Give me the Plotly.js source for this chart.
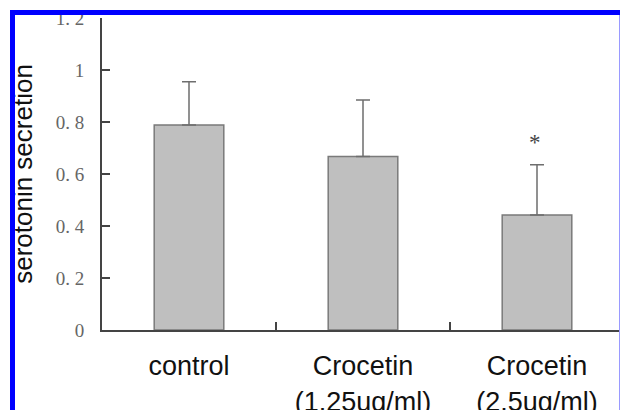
<!DOCTYPE html>
<html>
<head>
<meta charset="utf-8">
<script src="https://cdn.plot.ly/plotly-3.0.1.min.js"></script>
<style>
html,body{margin:0;padding:0;background:#fff;overflow:hidden;width:620px;height:410px;}
#wrap{position:relative;width:620px;height:410px;overflow:hidden;}
#chart{position:absolute;left:0;top:0;}
.bd{position:absolute;pointer-events:none;}
</style>
</head>
<body>
<div id="wrap">
<div id="chart"></div>
<div class="bd" style="left:10px;top:10px;width:610px;height:5px;background:#0000ff;"></div>
<div class="bd" style="left:10px;top:10px;width:5px;height:400px;background:#0000ff;"></div>
<div class="bd" style="left:619px;top:15px;width:1px;height:395px;background:#9a9aff;"></div>
</div>
<script>
// Data
var categories = ["control", "Crocetin<br>(1.25ug/ml)", "Crocetin<br>(2.5ug/ml)"];
var secretion = [0.788, 0.667, 0.442];
var errorUp = [0.167, 0.218, 0.194];
var significance = ["", "", "*"];
var yTickVals = [0, 0.2, 0.4, 0.6, 0.8, 1.0, 1.2];
var yTickText = ["0", "0. 2", "0. 4", "0. 6", "0. 8", "1", "1. 2"];

var trace = {
  type: "bar",
  x: categories,
  y: secretion,
  width: 0.4,
  marker: {color: "#bfbfbf", line: {color: "#7a7a7a", width: 1.5}},
  error_y: {type: "data", symmetric: false, array: errorUp, arrayminus: errorUp.map(function(){return 0;}),
            color: "#6e6e6e", thickness: 1.5, width: 7},
  hoverinfo: "none"
};

var annotations = [];
significance.forEach(function(s, i){
  if (s) {
    annotations.push({
      x: categories[i], y: secretion[i] + errorUp[i], xref: "x", yref: "y",
      text: s, showarrow: false, yanchor: "bottom", yshift: 8, xshift: -2,
      font: {family: "Liberation Serif, serif", size: 23, color: "#444"}
    });
  }
});

var layout = {
  width: 626, height: 410,
  margin: {l: 102, r: 2, t: 18, b: 80},
  paper_bgcolor: "rgba(0,0,0,0)", plot_bgcolor: "rgba(0,0,0,0)",
  showlegend: false,
  bargap: 0.6,
  xaxis: {
    type: "category",
    showline: true, linecolor: "#444", linewidth: 2,
    ticks: "inside", tickson: "boundaries", ticklen: 8, tickwidth: 1.5, tickcolor: "#444",
    showgrid: false, zeroline: false,
    tickfont: {family: "Liberation Sans, Arial, sans-serif", size: 27, color: "#111"},
    ticklabelstandoff: 11
  },
  yaxis: {
    range: [0, 1.2],
    showline: true, linecolor: "#444", linewidth: 2,
    ticks: "inside", ticklen: 8, tickwidth: 2, tickcolor: "#444",
    tickvals: yTickVals, ticktext: yTickText,
    showgrid: false, zeroline: false,
    tickfont: {family: "Liberation Serif, Times New Roman, serif", size: 19, color: "#666"},
    ticklabelstandoff: 12,
    title: {text: "serotonin secretion", standoff: 16,
            font: {family: "Liberation Sans, Arial, sans-serif", size: 26, color: "#111"}}
  },
  annotations: annotations
};

Plotly.newPlot("chart", [trace], layout, {staticPlot: true, displayModeBar: false});
</script>
</body>
</html>
